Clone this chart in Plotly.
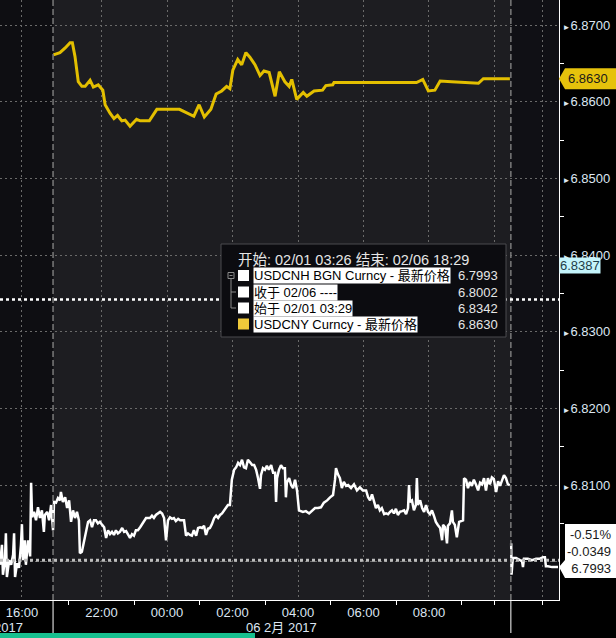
import plotly.graph_objects as go

# ---------------- data (x = compressed session hours, 0 = 00:00 on 06 Feb) -------------
cnh_hours = [
    -5.10, -5.04, -5.01, -4.95, -4.92, -4.89, -4.82, -4.76, -4.70, -4.67,
    -4.64, -4.58, -4.52, -4.46, -4.43, -4.40, -4.34, -4.31, -4.24, -4.18,
    -4.15, -4.12, -4.06, -4.00, -3.94, -3.88, -3.82, -3.76, -3.73, -3.66,
    -3.60, -3.54, -3.48, -3.45, -3.39, -3.33, -3.27, -3.24, -3.18, -3.11,
    -3.05, -2.99, -2.93, -2.87, -2.81, -2.75, -2.69, -2.66, -2.60, -2.53,
    -2.47, -2.41, -2.35, -2.29, -2.23, -2.17, -2.11, -2.05, -1.98, -1.92,
    -1.86, -1.80, -1.74, -1.68, -1.62, -1.56, -1.50, -1.44, -1.37, -1.31,
    -1.25, -1.19, -1.13, -1.07, -1.01, -0.95, -0.89, -0.82, -0.76, -0.70,
    -0.64, -0.58, -0.52, -0.46, -0.40, -0.34, -0.27, -0.21, -0.15, -0.09,
    -0.03, 0.03, 0.09, 0.15, 0.21, 0.27, 0.34, 0.40, 0.46, 0.52,
    0.58, 0.64, 0.70, 0.76, 0.82, 0.89, 0.95, 1.01, 1.07, 1.13,
    1.19, 1.25, 1.31, 1.37, 1.44, 1.50, 1.56, 1.62, 1.68, 1.74,
    1.80, 1.86, 1.92, 1.98, 2.05, 2.11, 2.17, 2.23, 2.29, 2.35,
    2.41, 2.47, 2.53, 2.60, 2.66, 2.72, 2.78, 2.84, 2.87, 2.93,
    2.99, 3.05, 3.11, 3.18, 3.24, 3.30, 3.33, 3.36, 3.42, 3.48,
    3.54, 3.60, 3.63, 3.66, 3.73, 3.79, 3.85, 3.91, 3.97, 4.03,
    4.15, 4.24, 4.34, 4.43, 4.52, 4.61, 4.70, 4.79, 4.89, 4.98,
    5.07, 5.13, 5.16, 5.22, 5.28, 5.34, 5.40, 5.47, 5.53, 5.62,
    5.71, 5.80, 5.89, 5.98, 6.08, 6.14, 6.20, 6.26, 6.32, 6.38,
    6.44, 6.50, 6.56, 6.63, 6.69, 6.75, 6.81, 6.87, 6.93, 6.99,
    7.05, 7.11, 7.18, 7.24, 7.30, 7.36, 7.39, 7.42, 7.48, 7.54,
    7.60, 7.63, 7.66, 7.73, 7.79, 7.85, 7.91, 7.97, 8.03, 8.09,
    8.15, 8.21, 8.27, 8.34, 8.40, 8.43, 8.49, 8.55, 8.58, 8.64,
    8.70, 8.73, 8.79, 8.85, 8.92, 8.98, 9.04, 9.07, 9.13, 9.19,
    9.25, 9.31, 9.37, 9.44, 9.50, 9.56, 9.62, 9.68, 9.74, 9.80,
    9.86, 9.92, 9.98, 10.05, 10.11, 10.17, 10.23, 10.29, 10.35, 10.41,
    10.47,
]
cnh_values = [
    6.7996, 6.8022, 6.7983, 6.8002, 6.8037, 6.7980, 6.8002, 6.7996, 6.8009, 6.8037,
    6.7980, 6.7998, 6.7992, 6.8022, 6.8049, 6.8002, 6.8028, 6.7996, 6.8028, 6.8007,
    6.8103, 6.8058, 6.8065, 6.8054, 6.8071, 6.8057, 6.8067, 6.8039, 6.8061, 6.8065,
    6.8054, 6.8074, 6.8041, 6.8078, 6.8077, 6.8083, 6.8080, 6.8091, 6.8078, 6.8084,
    6.8070, 6.8080, 6.8052, 6.8067, 6.8057, 6.8065, 6.8054, 6.8011, 6.8013, 6.8028,
    6.8041, 6.8052, 6.8054, 6.8045, 6.8054, 6.8054, 6.8050, 6.8052, 6.8048, 6.8045,
    6.8031, 6.8041, 6.8036, 6.8039, 6.8035, 6.8041, 6.8037, 6.8039, 6.8044, 6.8039,
    6.8040, 6.8035, 6.8031, 6.8036, 6.8034, 6.8041, 6.8041, 6.8045, 6.8049, 6.8053,
    6.8057, 6.8057, 6.8057, 6.8060, 6.8057, 6.8061, 6.8063, 6.8065, 6.8063, 6.8057,
    6.8028, 6.8054, 6.8058, 6.8056, 6.8057, 6.8053, 6.8056, 6.8054, 6.8054, 6.8054,
    6.8034, 6.8037, 6.8035, 6.8034, 6.8041, 6.8034, 6.8044, 6.8045, 6.8044, 6.8047,
    6.8035, 6.8043, 6.8044, 6.8049, 6.8057, 6.8060, 6.8057, 6.8061, 6.8063, 6.8067,
    6.8070, 6.8074, 6.8074, 6.8107, 6.8120, 6.8123, 6.8129, 6.8126, 6.8133, 6.8123,
    6.8122, 6.8133, 6.8130, 6.8126, 6.8126, 6.8120, 6.8109, 6.8095, 6.8113, 6.8122,
    6.8120, 6.8125, 6.8120, 6.8126, 6.8116, 6.8116, 6.8078, 6.8109, 6.8120, 6.8126,
    6.8122, 6.8122, 6.8084, 6.8103, 6.8109, 6.8100, 6.8096, 6.8107, 6.8093, 6.8067,
    6.8065, 6.8066, 6.8063, 6.8067, 6.8070, 6.8070, 6.8071, 6.8077, 6.8080, 6.8084,
    6.8087, 6.8107, 6.8122, 6.8114, 6.8109, 6.8096, 6.8104, 6.8099, 6.8100, 6.8096,
    6.8101, 6.8093, 6.8097, 6.8093, 6.8093, 6.8084, 6.8080, 6.8088, 6.8077, 6.8070,
    6.8074, 6.8067, 6.8070, 6.8062, 6.8063, 6.8062, 6.8065, 6.8067, 6.8063, 6.8069,
    6.8061, 6.8065, 6.8066, 6.8067, 6.8062, 6.8070, 6.8100, 6.8078, 6.8080, 6.8067,
    6.8074, 6.8109, 6.8074, 6.8080, 6.8070, 6.8065, 6.8074, 6.8065, 6.8062, 6.8067,
    6.8060, 6.8052, 6.8048, 6.8044, 6.8028, 6.8048, 6.8045, 6.8024, 6.8047, 6.8050,
    6.8067, 6.8052, 6.8048, 6.8032, 6.8052, 6.8053, 6.8054, 6.8109, 6.8107, 6.8096,
    6.8104, 6.8099, 6.8107, 6.8100, 6.8093, 6.8103, 6.8101, 6.8109, 6.8093, 6.8109,
    6.8101, 6.8110, 6.8108, 6.8091, 6.8105, 6.8099, 6.8107, 6.8113, 6.8109, 6.8101,
    6.8100,
]
cnh2_hours = [10.51, 10.52, 10.56, 10.66, 10.78, 10.84, 10.87, 10.90, 11.02, 11.15,
              11.27, 11.39, 11.48, 11.54, 11.57, 11.63, 11.76, 11.88, 11.94]
cnh2_values = [6.8024, 6.7983, 6.8005, 6.8005, 6.8002, 6.8001, 6.7993, 6.8004, 6.8004, 6.8002,
               6.8004, 6.8004, 6.8006, 6.8006, 6.7994, 6.7994, 6.7993, 6.7993, 6.7993]

cny_hours = [
    -3.47, -3.27, -3.11, -2.96, -2.89, -2.81, -2.71, -2.60, -2.50, -2.35,
    -2.25, -2.10, -1.96, -1.89, -1.74, -1.62, -1.51, -1.38, -1.28, -1.13,
    -0.93, -0.82, -0.54, -0.31, 0.38, 0.60, 0.82, 0.98, 1.14, 1.34,
    1.50, 1.67, 1.82, 1.92, 2.01, 2.16, 2.28, 2.41, 2.53, 2.69,
    2.84, 2.96, 3.12, 3.30, 3.43, 3.60, 3.73, 3.81, 3.96, 4.16,
    4.27, 4.49, 4.75, 4.85, 5.06, 5.10, 7.62, 7.81, 7.98, 8.18,
    8.34, 8.69, 9.40, 9.51, 9.66, 10.47,
]
cny_values = [
    6.8661, 6.8664, 6.8670, 6.8677, 6.8677, 6.8659, 6.8626, 6.8620, 6.8620, 6.8628,
    6.8619, 6.8622, 6.8615, 6.8596, 6.8585, 6.8578, 6.8582, 6.8575, 6.8576, 6.8568,
    6.8577, 6.8575, 6.8575, 6.8590, 6.8590, 6.8585, 6.8581, 6.8596, 6.8580, 6.8590,
    6.8610, 6.8614, 6.8620, 6.8617, 6.8641, 6.8655, 6.8648, 6.8664, 6.8658, 6.8648,
    6.8634, 6.8640, 6.8638, 6.8607, 6.8639, 6.8626, 6.8620, 6.8629, 6.8603, 6.8612,
    6.8607, 6.8614, 6.8615, 6.8621, 6.8622, 6.8625, 6.8625, 6.8629, 6.8614, 6.8615,
    6.8627, 6.8626, 6.8625, 6.8624, 6.8630, 6.8630,
]

tick_hours = [-4.43, -2, 0, 2, 4, 6, 8, 10, 11.48]
tick_labels = ["16:00", "22:00", "00:00", "02:00", "04:00", "06:00", "08:00", "", ""]
minor_hours = [-3, -1, 1, 3, 5, 7, 9, 10, 11.48]
session_start = -3.48
session_end = 10.50
x_range = [-5.10, 11.97]
y_range = [6.79501, 6.87326]
y_ticks = [6.80, 6.81, 6.82, 6.83, 6.84, 6.85, 6.86, 6.87]
y_tick_labels = ["", "6.8100", "6.8200", "6.8300", "6.8400", "6.8500", "6.8600", "6.8700"]
y_minor = [6.805, 6.815, 6.825, 6.835, 6.845, 6.855, 6.865]

legend_title = "开始: 02/01 03:26 结束: 02/06 18:29"
legend_rows = ["USDCNH BGN Curncy - 最新价格", "收于 02/06 ----", "始于 02/01 03:29", "USDCNY Curncy - 最新价格"]
legend_values = [6.7993, 6.8002, 6.8342, 6.8630]
cnh_change_pct = "-0.51%"
cnh_change_abs = "-0.0349"
crosshair_value = 6.8387
date_left = "2017"
date_mid = "06 2月 2017"

# ---------------- layout helpers ----------------
W, H = 559, 600
FONT = "Liberation Sans, Arial, Noto Sans CJK SC, sans-serif"


def fx(px):
    return px / W


def fy(py):
    return 1 - py / H


def yp(v):
    return (v - y_range[0]) / (y_range[1] - y_range[0])


fig = go.Figure()
fig.add_trace(go.Scatter(x=cny_hours, y=cny_values, mode="lines",
                         line=dict(color="#e3bf00", width=3), hoverinfo="skip"))
fig.add_trace(go.Scatter(x=cnh_hours, y=cnh_values, mode="lines",
                         line=dict(color="#ffffff", width=2.5), hoverinfo="skip"))
fig.add_trace(go.Scatter(x=cnh2_hours, y=cnh2_values, mode="lines",
                         line=dict(color="#ffffff", width=2.5), hoverinfo="skip"))

shapes = []
# session backgrounds
shapes.append(dict(type="rect", xref="x", yref="paper", x0=session_start, x1=session_end,
                   y0=0, y1=1, fillcolor="#1d1d21", line_width=0, layer="below"))
shapes.append(dict(type="rect", xref="x", yref="paper", x0=session_end, x1=x_range[1],
                   y0=0, y1=1, fillcolor="#101015", line_width=0, layer="below"))
# session boundary lines
for s in (session_start, session_end):
    shapes.append(dict(type="line", xref="x", yref="paper", x0=s, x1=s, y0=0, y1=1,
                       line=dict(color="#7a7a7a", width=1.5, dash="6px,3px"), layer="above"))
    shapes.append(dict(type="line", xref="x", yref="paper", x0=s, x1=s, y0=-0.055, y1=0,
                       line=dict(color="#ffffff", width=1)))
# open / close reference lines
shapes.append(dict(type="line", xref="paper", yref="y", x0=0, x1=1,
                   y0=legend_values[2], y1=legend_values[2],
                   line=dict(color="#ffffff", width=2.5, dash="dot"), layer="above"))
shapes.append(dict(type="line", xref="paper", yref="y", x0=0, x1=1,
                   y0=legend_values[1], y1=legend_values[1],
                   line=dict(color="#bdbdbd", width=3, dash="dot"), layer="above"))

# legend box
shapes.append(dict(type="rect", xref="paper", yref="paper", x0=fx(221), x1=fx(506),
                   y0=fy(337), y1=fy(244), fillcolor="#0c0c10",
                   line=dict(color="#4a4a4e", width=1), layer="above"))
row_py = [275.5, 292, 308, 324]
sq_colors = ["#ffffff", "#ffffff", "#ffffff", "#efc93a"]
for py, c in zip(row_py, sq_colors):
    shapes.append(dict(type="rect", xref="paper", yref="paper", x0=fx(238), x1=fx(249),
                       y0=fy(py + 5.5), y1=fy(py - 5.5), fillcolor=c, line_width=0, layer="above"))
# tree decoration
tree = dict(color="#8a8a8a", width=1)
shapes.append(dict(type="rect", xref="paper", yref="paper", x0=fx(228), x1=fx(234),
                   y0=fy(278.5), y1=fy(272.5), line=tree, layer="above"))
shapes.append(dict(type="line", xref="paper", yref="paper", x0=fx(229.5), x1=fx(232.5),
                   y0=fy(275.5), y1=fy(275.5), line=tree, layer="above"))
shapes.append(dict(type="line", xref="paper", yref="paper", x0=fx(231), x1=fx(231),
                   y0=fy(278.5), y1=fy(308), line=tree, layer="above"))
for py in (292, 308):
    shapes.append(dict(type="line", xref="paper", yref="paper", x0=fx(231), x1=fx(236),
                       y0=fy(py), y1=fy(py), line=tree, layer="above"))

# last-value label for USDCNY (gold)
t = yp(cny_values[-1])
h = 10.5 / H
shapes.append(dict(type="path", xref="paper", yref="paper", layer="above",
                   path=f"M {fx(559)},{t} L {fx(565)},{t + h} L {fx(616)},{t + h} "
                        f"L {fx(616)},{t - h} L {fx(565)},{t - h} Z",
                   fillcolor="#e6c20c", line_width=0))
# last-value label for USDCNH (white)
t2 = yp(cnh2_values[-1])
shapes.append(dict(type="path", xref="paper", yref="paper", layer="above",
                   path=f"M {fx(559)},{t2} L {fx(565)},{t2 + 7 / H} L {fx(565)},{t2 + 43 / H} "
                        f"L {fx(616)},{t2 + 43 / H} L {fx(616)},{t2 - 11 / H} L {fx(565)},{t2 - 11 / H} Z",
                   fillcolor="#ffffff", line_width=0))
# bottom green bar
shapes.append(dict(type="rect", xref="paper", yref="paper", x0=0, x1=fx(255),
                   y0=fy(638), y1=fy(633), fillcolor="#17c08f", line_width=0))

annotations = []
annotations.append(dict(xref="paper", yref="paper", x=fx(236), y=fy(260), xanchor="left",
                        yanchor="middle", text=legend_title, showarrow=False,
                        font=dict(family=FONT, size=14.5, color="#e6e6e6")))
for py, txt, val in zip(row_py, legend_rows, legend_values):
    annotations.append(dict(xref="paper", yref="paper", x=fx(253), y=fy(py), xanchor="left",
                            yanchor="middle", text=txt, showarrow=False, bgcolor="#ffffff",
                            borderpad=0, font=dict(family=FONT, size=13, color="#000000")))
    annotations.append(dict(xref="paper", yref="paper", x=fx(500), y=fy(py), xanchor="right",
                            yanchor="middle", text=f"{val:.4f}", showarrow=False,
                            font=dict(family=FONT, size=13, color="#e6e6e6")))
annotations.append(dict(xref="paper", yref="paper", x=fx(588), y=t, xanchor="center",
                        yanchor="middle", text=f"{cny_values[-1]:.4f}", showarrow=False,
                        font=dict(family=FONT, size=13, color="#1a1a1a")))
annotations.append(dict(xref="paper", yref="paper", x=fx(614), y=t2 + 16 / H, xanchor="right",
                        yanchor="middle", align="right", showarrow=False,
                        text=f"{cnh_change_pct}<br>{cnh_change_abs}<br>{cnh2_values[-1]:.4f}",
                        font=dict(family=FONT, size=13, color="#1a1a1a")))
annotations.append(dict(xref="paper", yref="y", x=fx(559), y=crosshair_value, xanchor="left",
                        yanchor="middle", text=f"{crosshair_value:.4f}", showarrow=False,
                        bgcolor="#c4f4fb", borderpad=0,
                        font=dict(family=FONT, size=13, color="#1d3d48")))
annotations.append(dict(xref="paper", yref="paper", x=fx(25), y=fy(627), xanchor="right",
                        yanchor="middle", text=date_left, showarrow=False,
                        font=dict(family=FONT, size=13, color="#dde6f2")))
annotations.append(dict(xref="paper", yref="paper", x=fx(244), y=fy(627), xanchor="left",
                        yanchor="middle", text=date_mid, showarrow=False,
                        font=dict(family=FONT, size=13, color="#dde6f2")))

fig.update_layout(
    width=616, height=638,
    margin=dict(l=0, r=57, t=0, b=38),
    paper_bgcolor="#000000",
    plot_bgcolor="#0e0e12",
    showlegend=False,
    shapes=shapes,
    annotations=annotations,
    xaxis=dict(range=x_range, tickmode="array", tickvals=tick_hours, ticktext=tick_labels,
               ticks="", showgrid=True, gridcolor="#6a6a6a", griddash="2px,3px", gridwidth=1,
               zeroline=False, showline=True, linecolor="#ffffff", linewidth=1,
               tickfont=dict(family=FONT, size=13, color="#dde6f2"),
               minor=dict(tickvals=minor_hours, ticks="outside", ticklen=4,
                          tickcolor="#ffffff", showgrid=False)),
    yaxis=dict(range=y_range, side="right", tickmode="array", tickvals=y_ticks,
               ticktext=[(f"<span style='font-size:8px'>►</span>{lab}" if lab else "")
                         for lab in y_tick_labels],
               ticks="", showgrid=True, gridcolor="#6a6a6a", griddash="2px,3px", gridwidth=1,
               zeroline=False, showline=True, linecolor="#ffffff", linewidth=1,
               tickfont=dict(family=FONT, size=13, color="#dde6f2"),
               minor=dict(tickvals=y_minor, ticks="outside", ticklen=4,
                          tickcolor="#ffffff", showgrid=False)),
)

fig.write_html("out.html", config={"displayModeBar": False},
               post_script="document.body.style.margin='0';document.body.style.background='#000';")
